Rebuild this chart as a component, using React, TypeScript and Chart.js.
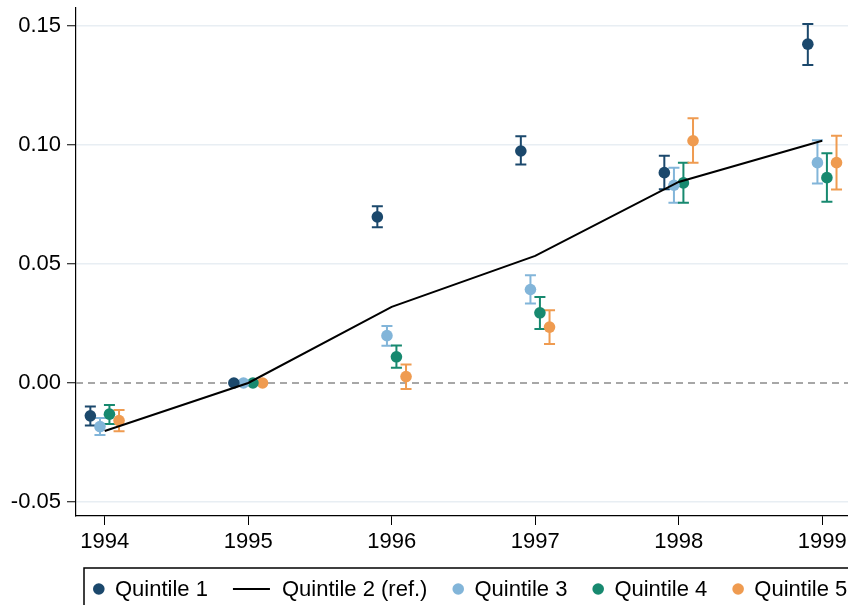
import { useEffect, useRef } from "react";
import { Chart, registerables } from "chart.js";

Chart.register(...registerables);

// Event-time estimates by income quintile, 1995 is the reference year
const years = [1994, 1995, 1996, 1997, 1998, 1999];
const yTickValues = [-0.05, 0, 0.05, 0.1, 0.15];

const q1Est = [-0.0138, 0, 0.0698, 0.0975, 0.0884, 0.1424];
const q1Lo = [-0.0179, 0, 0.0655, 0.0918, 0.0814, 0.1336];
const q1Hi = [-0.0099, 0, 0.0743, 0.1037, 0.0955, 0.1509];

const q2Est = [-0.0202, 0, 0.032, 0.0534, 0.0845, 0.1018];

const q3Est = [-0.0183, 0, 0.0199, 0.0393, 0.0831, 0.0926];
const q3Lo = [-0.0219, 0, 0.0157, 0.0334, 0.0757, 0.0838];
const q3Hi = [-0.0147, 0, 0.024, 0.0453, 0.0905, 0.102];

const q4Est = [-0.0131, 0, 0.011, 0.0295, 0.0841, 0.0863];
const q4Lo = [-0.0172, 0, 0.0064, 0.0227, 0.0757, 0.0762];
const q4Hi = [-0.0092, 0, 0.0158, 0.0361, 0.0926, 0.0966];

const q5Est = [-0.0158, 0, 0.0027, 0.0235, 0.1018, 0.0926];
const q5Lo = [-0.0203, 0, -0.0025, 0.0164, 0.0926, 0.0813];
const q5Hi = [-0.0113, 0, 0.0078, 0.0306, 0.1113, 0.1039];

const labels = ["Quintile 1", "Quintile 2 (ref.)", "Quintile 3", "Quintile 4", "Quintile 5"];
const colors = ["#1b486c", "#000000", "#82b5d9", "#17896f", "#ef9b50"];
const offsets = [-0.1, 0, -0.033, 0.033, 0.1];

const FONT = '"Liberation Sans", Arial, Helvetica, sans-serif';
const FONT_SIZE = 22;
const MARKER_R = 5.8;

const pts = (est: number[], off: number) => est.map((y, i) => ({ x: years[i] + off, y }));

const errorBarsPlugin = {
  id: "errorBars",
  beforeDatasetsDraw(chart: any) {
    const { ctx } = chart;
    const xs = chart.scales.x;
    const ys = chart.scales.y;
    chart.data.datasets.forEach((ds: any) => {
      if (!ds.errLo) return;
      ctx.save();
      ctx.strokeStyle = ds.backgroundColor;
      ctx.lineWidth = 2;
      ds.data.forEach((p: any, i: number) => {
        const lo = ds.errLo[i];
        const hi = ds.errHi[i];
        if (lo === hi) return;
        const px = xs.getPixelForValue(p.x);
        const pLo = ys.getPixelForValue(lo);
        const pHi = ys.getPixelForValue(hi);
        const cap = 5.5;
        ctx.beginPath();
        ctx.moveTo(px, pLo);
        ctx.lineTo(px, pHi);
        ctx.moveTo(px - cap, pLo);
        ctx.lineTo(px + cap, pLo);
        ctx.moveTo(px - cap, pHi);
        ctx.lineTo(px + cap, pHi);
        ctx.stroke();
      });
      ctx.restore();
    });
  },
};

const zeroLinePlugin = {
  id: "zeroLine",
  beforeDatasetsDraw(chart: any) {
    const { ctx, chartArea } = chart;
    const y = chart.scales.y.getPixelForValue(0);
    ctx.save();
    ctx.strokeStyle = "#8a8a8a";
    ctx.lineWidth = 1.6;
    ctx.setLineDash([7, 5]);
    ctx.beginPath();
    ctx.moveTo(chartArea.left, y);
    ctx.lineTo(chartArea.right, y);
    ctx.stroke();
    ctx.restore();
  },
};

const boxLegendPlugin = {
  id: "boxLegend",
  afterDraw(chart: any) {
    const { ctx } = chart;
    const boxLeft = 84;
    const boxTop = 568;
    const cy = 589;
    ctx.save();
    ctx.strokeStyle = "#000";
    ctx.lineWidth = 1.5;
    ctx.strokeRect(boxLeft, boxTop, 1000, 200);
    ctx.font = `${FONT_SIZE}px ${FONT}`;
    ctx.textBaseline = "middle";
    ctx.textAlign = "left";
    let x = boxLeft + 9;
    labels.forEach((label, i) => {
      if (i === 1) {
        ctx.strokeStyle = colors[i];
        ctx.lineWidth = 2;
        ctx.beginPath();
        ctx.moveTo(x, cy);
        ctx.lineTo(x + 37, cy);
        ctx.stroke();
        x += 49;
      } else {
        ctx.fillStyle = colors[i];
        ctx.beginPath();
        ctx.arc(x + MARKER_R, cy, MARKER_R, 0, Math.PI * 2);
        ctx.fill();
        x += 22;
      }
      ctx.fillStyle = "#000";
      ctx.fillText(label, x, cy + 1);
      x += ctx.measureText(label).width + 25;
    });
    ctx.restore();
  },
};

export default function App() {
  const canvasRef = useRef<HTMLCanvasElement | null>(null);

  useEffect(() => {
    if (!canvasRef.current) return;
    const scatterSet = (idx: number, est: number[], lo: number[], hi: number[]) => ({
      type: "scatter" as const,
      label: labels[idx],
      data: pts(est, offsets[idx]),
      backgroundColor: colors[idx],
      borderColor: colors[idx],
      pointRadius: MARKER_R,
      pointBorderWidth: 0,
      pointHoverRadius: MARKER_R,
      showLine: false,
      order: 1,
      errLo: lo,
      errHi: hi,
    });

    const chart = new Chart(canvasRef.current, {
      type: "scatter",
      data: {
        datasets: [
          scatterSet(0, q1Est, q1Lo, q1Hi),
          {
            type: "line",
            label: labels[1],
            data: pts(q2Est, 0),
            borderColor: colors[1],
            backgroundColor: colors[1],
            borderWidth: 2,
            pointRadius: 0,
            tension: 0,
            fill: false,
            order: 0,
          } as any,
          scatterSet(2, q3Est, q3Lo, q3Hi),
          scatterSet(3, q4Est, q4Lo, q4Hi),
          scatterSet(4, q5Est, q5Lo, q5Hi),
        ] as any,
      },
      options: {
        animation: false,
        responsive: false,
        events: [],
        layout: { autoPadding: false, padding: { top: 8, left: 0, right: 0, bottom: 0 } },
        plugins: {
          legend: { display: false },
          tooltip: { enabled: false },
        },
        scales: {
          x: {
            type: "linear",
            min: 1993.8,
            max: 1999.18,
            afterBuildTicks: (scale: any) => {
              scale.ticks = years.map((v) => ({ value: v }));
            },
            afterFit: (scale: any) => {
              scale.height = 89;
              scale.paddingLeft = 0;
              scale.paddingRight = 0;
            },
            ticks: {
              autoSkip: false,
              maxRotation: 0,
              padding: 4,
              color: "#000",
              font: { family: FONT, size: FONT_SIZE },
              callback: (v: any) => String(v),
            },
            grid: {
              drawOnChartArea: false,
              drawTicks: true,
              tickLength: 9,
              tickColor: "#000",
              tickWidth: 1,
            },
            border: { display: true, color: "#000", width: 1.2 },
          },
          y: {
            type: "linear",
            min: -0.0559,
            max: 0.1576,
            afterBuildTicks: (scale: any) => {
              scale.ticks = yTickValues.map((v) => ({ value: v }));
            },
            afterFit: (scale: any) => {
              scale.width = 76;
              scale.paddingTop = 0;
              scale.paddingBottom = 0;
            },
            ticks: {
              autoSkip: false,
              padding: 6,
              color: "#000",
              font: { family: FONT, size: FONT_SIZE },
              callback: (v: any) => Number(v).toFixed(2),
            },
            grid: {
              drawTicks: true,
              tickLength: 9,
              tickColor: "#000",
              tickWidth: 1,
              lineWidth: 1.5,
              color: (c: any) => (c.tick && Math.abs(c.tick.value) < 1e-9 ? "rgba(0,0,0,0)" : "#e8eef3"),
            },
            border: { display: true, color: "#000", width: 1.2 },
          },
        },
      },
      plugins: [zeroLinePlugin, errorBarsPlugin, boxLegendPlugin],
    });
    return () => chart.destroy();
  }, []);

  return (
    <div style={{ position: "fixed", left: 0, top: 0, width: 848, height: 605, background: "#fff" }}>
      <canvas ref={canvasRef} width={848} height={605} style={{ display: "block" }} />
    </div>
  );
}
